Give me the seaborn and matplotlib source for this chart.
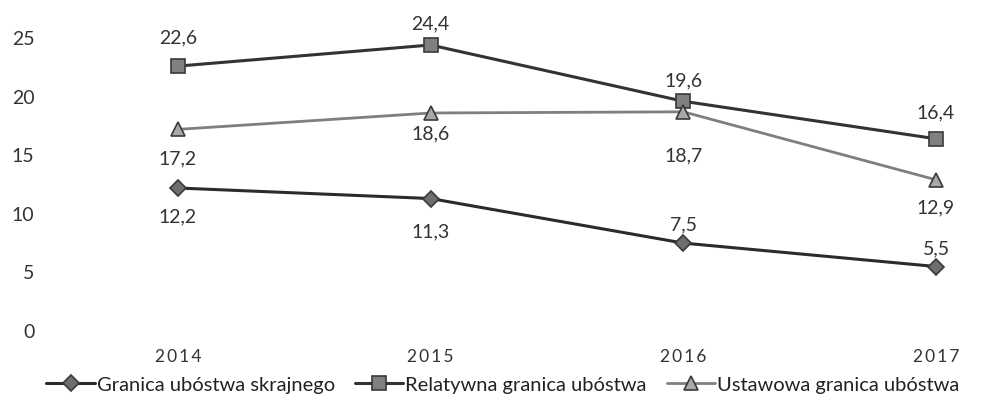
import matplotlib
matplotlib.use("Agg")
import matplotlib.pyplot as plt
import seaborn as sns
import pandas as pd

years = ["2014", "2015", "2016", "2017"]
skrajne = [12.2, 11.3, 7.5, 5.5]
relatywna = [22.6, 24.4, 19.6, 16.4]
ustawowa = [17.2, 18.6, 18.7, 12.9]

series_names = ["Granica ubóstwa skrajnego", "Relatywna granica ubóstwa", "Ustawowa granica ubóstwa"]
y_ticks = [0, 5, 10, 15, 20, 25]

sns.set_style("white")
plt.rcParams["font.family"] = ["Lato", "DejaVu Sans"]

fig = plt.figure(figsize=(9.96, 4.01), dpi=100)
ax = fig.add_axes([0.05, 0.1746, 0.94, 0.7307])

styles = [
    dict(data=skrajne, marker="D", ms=8, color="#2b2b2b", mfc="#6e6e6e", lw=2.2, va_off=[-21, -24, 13, 13]),
    dict(data=relatywna, marker="s", ms=10, color="#333333", mfc="#808080", lw=2.2, va_off=[20, 15, 15, 19]),
    dict(data=ustawowa, marker="^", ms=10, color="#7f7f7f", mfc="#a8a8a8", lw=2.0, va_off=[-21, -15, -32, -20]),
]

for name, st in zip(series_names, styles):
    df = pd.DataFrame({"rok": years, "wartosc": st["data"]})
    sns.lineplot(data=df, x="rok", y="wartosc", ax=ax, color=st["color"], lw=st["lw"],
                 marker=st["marker"], markersize=st["ms"], markerfacecolor=st["mfc"],
                 markeredgecolor="#3a3a3a", markeredgewidth=1.2, label=name, clip_on=False)
    for i, v in enumerate(st["data"]):
        ax.annotate(f"{v:.1f}".replace(".", ","), (i, v), xytext=(0, st["va_off"][i]),
                    textcoords="offset points", ha="center", va="center",
                    fontsize=14, color="#333333")

ax.set_xlim(-0.507, 3.198)
ax.set_ylim(0, 25)
ax.set_yticks(y_ticks)
ax.set_xticks(range(len(years)))
ax.set_xticklabels(["\u2009".join(list(y)) for y in years])
ax.tick_params(axis="y", length=0, pad=11, labelsize=14, labelcolor="#333333")
ax.tick_params(axis="x", length=0, pad=13, labelsize=12.5, labelcolor="#333333")
ax.set_xlabel("")
ax.set_ylabel("")
for s in ax.spines.values():
    s.set_visible(False)

handles, labels = ax.get_legend_handles_labels()
ax.get_legend().remove()
fig.legend(handles, labels, loc="center", bbox_to_anchor=(0.505, 0.04), ncol=3, frameon=False,
           fontsize=14.5, handlelength=2.4, handletextpad=0.1, columnspacing=1.0,
           labelcolor="#222222")

plt.savefig("out.png", dpi=100)
plt.close()
